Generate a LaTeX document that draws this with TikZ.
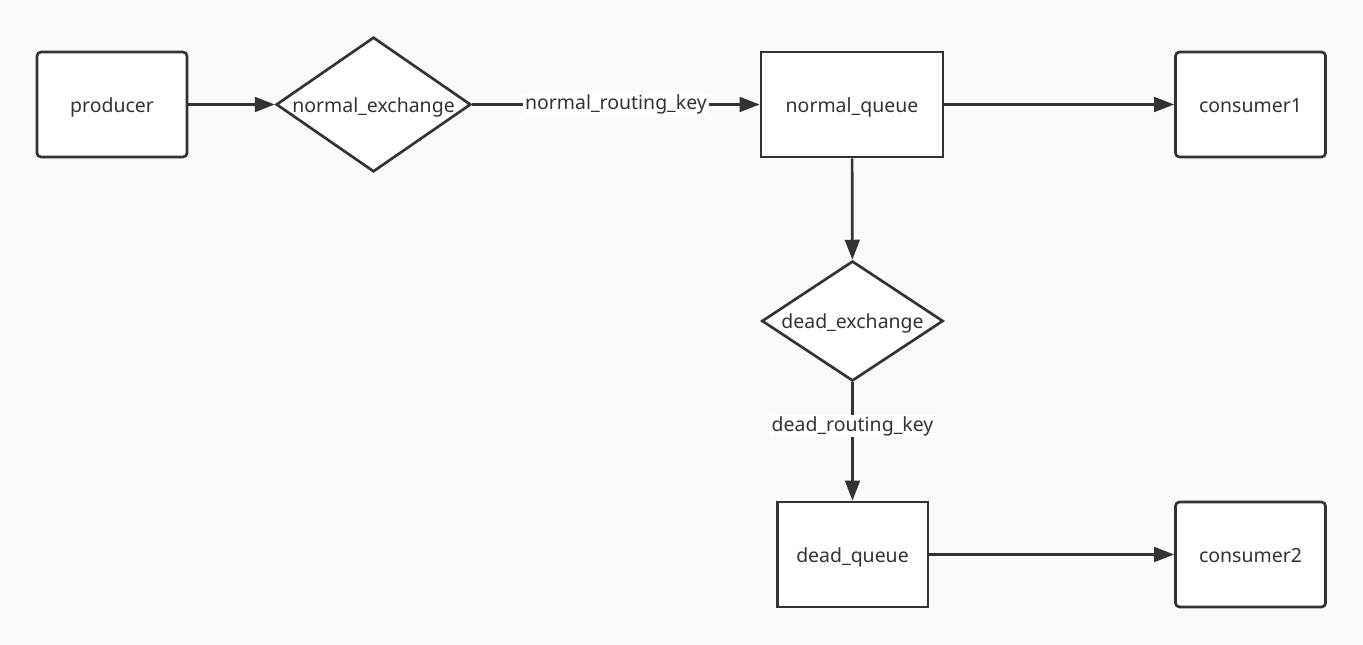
\documentclass[tikz,border=0pt]{standalone}
\usepackage{fontspec}
\setmainfont{Noto Sans}
\usetikzlibrary{shapes.geometric,arrows.meta}

\definecolor{bgcol}{HTML}{FAFAFA}
\definecolor{linecol}{HTML}{333333}

\begin{document}
\begin{tikzpicture}[x=0.75pt,y=-0.75pt,
    every node/.style={font=\fontsize{14.6}{17}\selectfont,text=linecol,text height=2.2ex,text depth=0pt},
    endbox/.style={draw=linecol,line width=2pt,fill=white,rounded corners=3pt,minimum width=112.5pt,minimum height=78.75pt},
    queuebox/.style={draw=linecol,line width=2pt,fill=white,minimum height=78.75pt},
    exchbox/.style={diamond,draw=linecol,line width=2pt,fill=white,inner sep=0pt},
    flow/.style={draw=linecol,line width=2pt,-{Triangle[length=15pt,width=11pt]}},
    keylabel/.style={fill=white,inner sep=1.5pt,text height=2ex,text depth=0.5ex}]


\fill[bgcol] (0,0) rectangle (1363,645);


\node[endbox] (producer) at (112,104.5) {producer};
\node[exchbox,aspect=1.44,minimum width=146pt,minimum height=101pt] (normalex) at (373.5,104.5) {normal\_exchange};
\node[queuebox,minimum width=136.5pt] (normalq) at (852,104.5) {normal\_queue};
\node[endbox] (consumer1) at (1250.5,104.5) {consumer1};

\node[exchbox,aspect=1.5,minimum width=136pt,minimum height=90pt] (deadex) at (852.5,321) {dead\_exchange};
\node[queuebox,minimum width=113pt] (deadq) at (852.5,554.5) {dead\_queue};
\node[endbox] (consumer2) at (1250.5,554.5) {consumer2};


\draw[flow] (producer) -- (normalex);
\draw[flow] (normalex) -- node[keylabel] {normal\_routing\_key} (normalq);
\draw[flow] (normalq) -- (consumer1);
\draw[flow] (normalq) -- (deadex);
\draw[flow] (deadex) -- node[keylabel,pos=0.37] {dead\_routing\_key} (deadq);
\draw[flow] (deadq) -- (consumer2);


\end{tikzpicture}
\end{document}
